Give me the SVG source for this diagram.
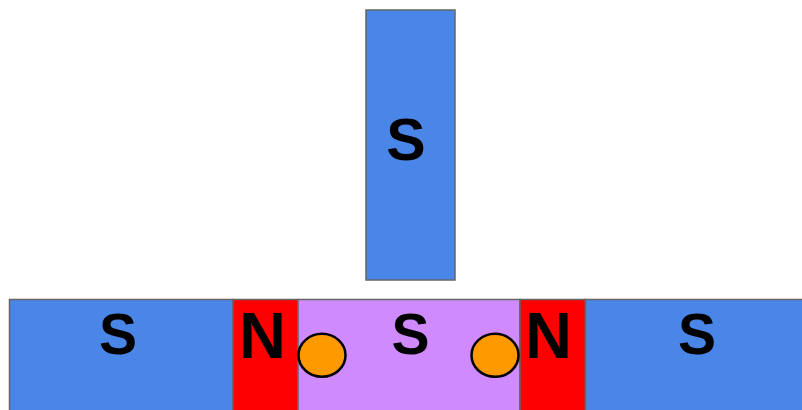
<svg xmlns="http://www.w3.org/2000/svg" width="802" height="410" viewBox="0 0 802 410">
<style>
.mag{stroke:#666666;stroke-width:1.5}
.blue{fill:#4a86e8}
.red{fill:#ff0000}
.purple{fill:#cf8bfd}
.ball{fill:#ff9900;stroke:#000000;stroke-width:2.5}
.lbl{font-family:"Liberation Sans",Arial,sans-serif;font-weight:bold;fill:#000000;text-anchor:middle}
</style>
<rect width="802" height="410" fill="#ffffff"/>
<g id="top-magnet">
<rect class="mag blue" x="366" y="10" width="89" height="270"/>
<text class="lbl" x="406" y="160" font-size="59">S</text>
</g>
<g id="left-s">
<rect class="mag blue" x="9.5" y="299.5" width="223.5" height="120"/>
<text class="lbl" x="118" y="354" font-size="57">S</text>
</g>
<g id="left-n">
<rect class="mag red" x="233" y="299.5" width="65" height="120"/>
<text class="lbl" x="262.5" y="358" font-size="65">N</text>
</g>
<g id="center-s">
<rect class="mag purple" x="298" y="299.5" width="222" height="120"/>
<text class="lbl" x="410.5" y="354" font-size="57">S</text>
</g>
<g id="right-n">
<rect class="mag red" x="520" y="299.5" width="65.5" height="120"/>
<text class="lbl" x="548.5" y="358" font-size="65">N</text>
</g>
<g id="right-s">
<rect class="mag blue" x="585.5" y="299.5" width="230" height="120"/>
<text class="lbl" x="697" y="354" font-size="57">S</text>
</g>
<g id="ball-left">
<ellipse class="ball" cx="322" cy="355.3" rx="23.5" ry="21.5"/>
</g>
<g id="ball-right">
<ellipse class="ball" cx="495" cy="355.3" rx="23.5" ry="21.5"/>
</g>
</svg>
